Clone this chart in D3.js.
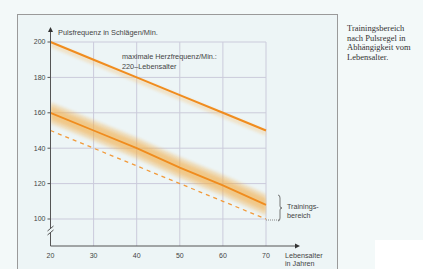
<!DOCTYPE html>
<html>
<head>
<meta charset="utf-8">
<script src="https://cdn.jsdelivr.net/npm/d3@7"></script>
<style>
  body { margin: 0; background: #f3f9f9; }
  svg { display: block; font-family: "Liberation Sans", Arial, sans-serif; }
</style>
</head>
<body>
<div id="chart"></div>
<script>
// data
var ages = [20, 30, 40, 50, 60, 70];
var maxHR = [200, 190, 180, 170, 160, 150];
var training = [160, 150, 140, 129, 119, 108];
var bandUpper = [166, 156, 146, 135, 125, 114];
var bandLower = [154, 144, 134, 123, 113, 102];
var lowerLimit = [150, 140, 130, 120, 110, 100];
var yTicks = [100, 120, 140, 160, 180, 200];
var xTicks = [20, 30, 40, 50, 60, 70];

var W = 423, H = 269;

var svg = d3.select("#chart")
  .append("svg")
    .attr("width", W)
    .attr("height", H);

var defs = svg.append("defs");
defs.append("filter")
  .attr("id", "soft")
  .attr("x", "-10%").attr("y", "-30%").attr("width", "120%").attr("height", "160%")
  .append("feGaussianBlur").attr("stdDeviation", 1.6);
defs.append("clipPath").attr("id", "plotClip")
  .append("rect").attr("x", 50.5).attr("y", 20).attr("width", 216).attr("height", 220);

// panel frame
svg.append("rect")
  .attr("x", 17.5).attr("y", 14.5)
  .attr("width", 320).attr("height", 270)
  .style("fill", "#edf5f6")
  .style("stroke", "#9a9a9a")
  .style("stroke-width", 1);

// white patch bottom right
svg.append("rect")
  .attr("x", 375).attr("y", 240).attr("width", 48).attr("height", 29)
  .style("fill", "#ffffff");

var x = d3.scaleLinear().domain([20, 70]).range([50.5, 266]);
var y = d3.scaleLinear().domain([100, 200]).range([219, 42]);
var yBase = 246;

// grid
svg.append("g")
  .selectAll("line")
  .data(xTicks.slice(1))
  .enter().append("line")
    .attr("x1", function(d) { return x(d); })
    .attr("x2", function(d) { return x(d); })
    .attr("y1", y(200)).attr("y2", yBase)
    .style("stroke", "#cbcbdb").style("stroke-width", 1);
svg.append("g")
  .selectAll("line")
  .data(yTicks)
  .enter().append("line")
    .attr("x1", x(20)).attr("x2", x(70))
    .attr("y1", function(d) { return y(d); })
    .attr("y2", function(d) { return y(d); })
    .style("stroke", "#cbcbdb").style("stroke-width", 1);

var bandData = ages.map(function(a, i) { return {a: a, hi: bandUpper[i], lo: bandLower[i]}; });

// soft training band
var bandG = svg.append("g").attr("clip-path", "url(#plotClip)");
[[1, 0.35], [0.6, 0.45]].forEach(function(p) {
  var k = p[0];
  var layer = d3.area()
    .x(function(d) { return x(d.a); })
    .y0(function(d, i) { return y(training[i] - (training[i] - d.lo) * k); })
    .y1(function(d, i) { return y(training[i] + (d.hi - training[i]) * k); });
  bandG.append("path")
    .datum(bandData)
    .attr("d", layer)
    .attr("filter", "url(#soft)")
    .style("fill", "#f2b04e")
    .style("opacity", p[1]);
});

// faint glow under max line
var glow = d3.area()
  .x(function(d) { return x(d.a); })
  .y0(function(d) { return y(d.v) + 5; })
  .y1(function(d) { return y(d.v); });
svg.append("g").attr("clip-path", "url(#plotClip)")
  .append("path")
  .datum(ages.map(function(a, i) { return {a: a, v: maxHR[i]}; }))
  .attr("d", glow)
  .attr("filter", "url(#soft)")
  .style("fill", "#f6c47a")
  .style("opacity", 0.4);

var line = d3.line()
  .x(function(d) { return x(d.a); })
  .y(function(d) { return y(d.v); });

function series(vals) {
  return ages.map(function(a, i) { return {a: a, v: vals[i]}; });
}

svg.append("path")
  .datum(series(maxHR))
  .attr("d", line)
  .style("fill", "none").style("stroke", "#f08c1e").style("stroke-width", 2);

svg.append("path")
  .datum(series(training))
  .attr("d", line)
  .style("fill", "none").style("stroke", "#f08c1e").style("stroke-width", 1.8);

svg.append("path")
  .datum(series(lowerLimit))
  .attr("d", line)
  .style("fill", "none").style("stroke", "#f29a3a").style("stroke-width", 1.3)
  .style("stroke-dasharray", "4,4");

// axes
var axisColor = "#555";
svg.append("line")
  .attr("x1", x(20)).attr("x2", x(20))
  .attr("y1", yBase).attr("y2", 233)
  .style("stroke", axisColor).style("stroke-width", 1);
svg.append("line")
  .attr("x1", x(20)).attr("x2", x(20))
  .attr("y1", 228).attr("y2", 31)
  .style("stroke", axisColor).style("stroke-width", 1);
// axis break marks
svg.append("line").attr("x1", x(20) - 3).attr("y1", 231).attr("x2", x(20) + 3).attr("y2", 226)
  .style("stroke", axisColor).style("stroke-width", 1);
svg.append("line").attr("x1", x(20) - 3).attr("y1", 235).attr("x2", x(20) + 3).attr("y2", 230)
  .style("stroke", axisColor).style("stroke-width", 1);
// y arrow
svg.append("path")
  .attr("d", "M" + x(20) + ",27 l-2.5,5 l5,0 z")
  .style("fill", "#333");

svg.append("line")
  .attr("x1", x(20)).attr("x2", 296)
  .attr("y1", yBase).attr("y2", yBase)
  .style("stroke", axisColor).style("stroke-width", 1);
svg.append("path")
  .attr("d", "M300," + yBase + " l-5,-2.5 l0,5 z")
  .style("fill", "#333");

// y ticks + labels
var yt = svg.append("g");
yt.selectAll("line")
  .data(yTicks)
  .enter().append("line")
    .attr("x1", x(20) - 3).attr("x2", x(20))
    .attr("y1", function(d) { return y(d); })
    .attr("y2", function(d) { return y(d); })
    .style("stroke", axisColor);
yt.selectAll("text")
  .data(yTicks)
  .enter().append("text")
    .attr("x", x(20) - 5)
    .attr("y", function(d) { return y(d); })
    .attr("dy", "0.35em")
    .attr("text-anchor", "end")
    .style("font-size", "7px")
    .style("fill", "#444")
    .text(function(d) { return d; });

// x labels
svg.append("g")
  .selectAll("text")
  .data(xTicks)
  .enter().append("text")
    .attr("x", function(d) { return x(d); })
    .attr("y", 257.5)
    .attr("text-anchor", "middle")
    .style("font-size", "7px")
    .style("fill", "#444")
    .text(function(d) { return d; });

// axis titles
svg.append("text")
  .attr("x", 58).attr("y", 34.5)
  .style("font-size", "7.4px").style("fill", "#444")
  .text("Pulsfrequenz in Schlägen/Min.");
svg.append("text")
  .attr("x", 285).attr("y", 258)
  .style("font-size", "7.2px").style("fill", "#444")
  .text("Lebensalter");
svg.append("text")
  .attr("x", 285).attr("y", 266)
  .style("font-size", "7.2px").style("fill", "#444")
  .text("in Jahren");

// annotation for max line
svg.append("text")
  .attr("x", 122).attr("y", 58.5)
  .style("font-size", "7.3px").style("fill", "#444")
  .text("maximale Herzfrequenz/Min.:");
svg.append("text")
  .attr("x", 122).attr("y", 68.5)
  .style("font-size", "7.3px").style("fill", "#444")
  .text("220\u2013Lebensalter");

// training range brace
svg.append("line")
  .attr("x1", x(70)).attr("x2", 280)
  .attr("y1", y(100) + 1).attr("y2", y(100) + 1)
  .style("stroke", "#888").style("stroke-dasharray", "1,1");
svg.append("path")
  .attr("d", "M278,195 q2,0 2,3 l0,8 q0,2 2,2 q-2,0 -2,2 l0,8 q0,3 -2,3")
  .style("fill", "none").style("stroke", "#555").style("stroke-width", 0.8);
svg.append("text")
  .attr("x", 287).attr("y", 209)
  .style("font-size", "7.2px").style("fill", "#444")
  .text("Trainings-");
svg.append("text")
  .attr("x", 287).attr("y", 217.5)
  .style("font-size", "7.2px").style("fill", "#444")
  .text("bereich");

// caption on the right
var caption = ["Trainingsbereich", "nach Pulsregel in", "Abhängigkeit vom", "Lebensalter."];
svg.append("g")
  .selectAll("text")
  .data(caption)
  .enter().append("text")
    .attr("x", 347)
    .attr("y", function(d, i) { return 31 + i * 9.5; })
    .style("font-family", "'Liberation Serif', 'Times New Roman', serif")
    .style("font-size", "8.5px")
    .style("fill", "#333")
    .text(function(d) { return d; });
</script>
</body>
</html>
